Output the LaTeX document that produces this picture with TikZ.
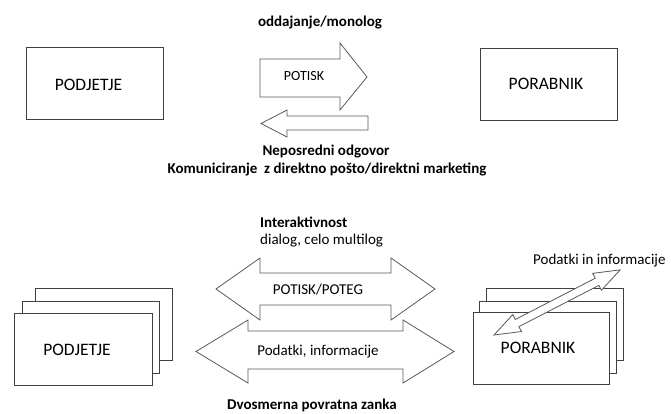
\documentclass[tikz,border=0pt]{standalone}
\usepackage{fontspec}
\setmainfont{Carlito}
\usepackage{tikz}
\usetikzlibrary{calc,positioning}

\begin{document}
\begin{tikzpicture}[x=1pt,y=-1pt,
    box/.style={draw=black!75,line width=0.9pt,fill=white,minimum width=137pt,minimum height=72pt,inner sep=0pt},
    bigarrow/.style={draw=black!65,line width=0.8pt,fill=white,line join=miter},
    lbl/.style={inner sep=0pt,font=\fontsize{15}{18}\selectfont},
    boxlbl/.style={inner sep=0pt,font=\fontsize{17.5}{20}\selectfont},
    head/.style={inner sep=0pt,font=\fontsize{15}{18}\selectfont\bfseries}]

\useasboundingbox (0,0) rectangle (671,414);

% enosmerna komunikacija
\node[box] (podjetje) at (95,83.5) {};
\node[boxlbl] (podjetjet) at (88.5,85) {PODJETJE};
\node[box] (porabnik) at (548.5,84) {};
\node[boxlbl] (porabnikt) at (546,84) {PORABNIK};

\node[head] (oddajanje) at (320,23) {oddajanje/monolog};
\draw[bigarrow] (260,59) -- (340,59) -- (340,43) -- (367,77) -- (340,110) -- (340,97) -- (260,97) -- cycle;
\node[lbl,font=\fontsize{14}{17}\selectfont] (potisk) at (304,76) {POTISK};
\draw[bigarrow] (368,116) -- (287,116) -- (287,110) -- (261,123.5) -- (287,137) -- (287,130) -- (368,130) -- cycle;
\node[head] (odgovor) at (326,152) {Neposredni odgovor};
\node[head] (komuniciranje) at (327,169) {Komuniciranje\ \ z direktno pošto/direktni marketing};

% dvosmerna komunikacija
\node[head,anchor=west] (interakt) at (260,222) {Interaktivnost};
\node[lbl,anchor=west] (dialog) at (260,241) {dialog, celo multilog};

\draw[bigarrow] (216,289) -- (260,258) -- (260,273) -- (391,273) -- (391,258) -- (435,289) -- (391,320) -- (391,305) -- (260,305) -- (260,320) -- cycle;
\node[lbl] (potiskpoteg) at (318,290) {POTISK/POTEG};
\draw[bigarrow] (196,351.5) -- (248,320) -- (248,331) -- (403,331) -- (403,320) -- (454,351.5) -- (403,383) -- (403,369) -- (248,369) -- (248,383) -- cycle;
\node[lbl] (podatki) at (318,352) {Podatki, informacije};
\node[head] (zanka) at (312,405) {Dvosmerna povratna zanka};

\node[box] (podjetje3) at (103.5,324.5) {};
\node[box] (podjetje2) at (91,337) {};
\node[box,minimum width=138pt] (podjetje1) at (83,349) {};
\node[boxlbl] (podjetjeb) at (77,350) {PODJETJE};

\node[box] (porabnik3) at (554.5,324.5) {};
\node[box] (porabnik2) at (547.5,337) {};
\node[box,minimum width=136pt] (porabnik1) at (541,348) {};
\node[boxlbl] (porabnikb) at (538,348) {PORABNIK};

\begin{scope}[shift={(494,335)},rotate=27.3]
\draw[bigarrow] (0,0) -- (26,-9.5) -- (26,-4) -- (116,-4) -- (116,-9.5) -- (142,0) -- (116,9.5) -- (116,4) -- (26,4) -- (26,9.5) -- cycle;
\end{scope}
\node[lbl,anchor=west] (podinf) at (533,261) {Podatki in informacije};

\end{tikzpicture}
\end{document}
